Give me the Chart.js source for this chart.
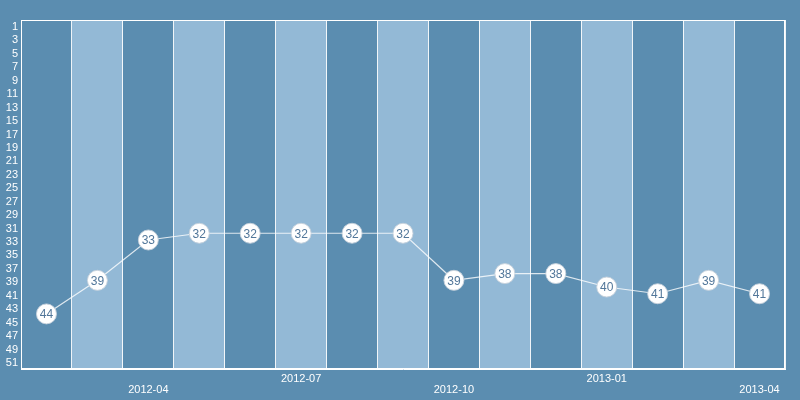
<!DOCTYPE html>
<html>
<head>
<meta charset="utf-8">
<script src="https://cdn.jsdelivr.net/npm/chart.js@4"></script>
<style>
  html, body { margin: 0; padding: 0; background: #5b8db0; }
  #wrap { width: 800px; height: 400px; }
</style>
</head>
<body>
<div id="wrap"><canvas id="rankChart"></canvas></div>
<script>
// données du graphique
const months = ['2012-02', '2012-03', '2012-04', '2012-05', '2012-06', '2012-07', '2012-08', '2012-09',
                '2012-10', '2012-11', '2012-12', '2013-01', '2013-02', '2013-03', '2013-04'];
const ranks = [44, 39, 33, 32, 32, 32, 32, 32, 39, 38, 38, 40, 41, 39, 41];
const yTicks = [1, 3, 5, 7, 9, 11, 13, 15, 17, 19, 21, 23, 25, 27, 29, 31, 33, 35, 37, 39, 41, 43, 45, 47, 49, 51];
const highLabels = ['2012-07', '2013-01'];
const lowLabels = ['2012-04', '2012-10', '2013-04'];

const darkBand = '#5b8db0';
const lightBand = '#93b9d6';

// bandes verticales alternées
const bandsPlugin = {
    id: 'bands',
    beforeDraw(chart) {
        const { ctx, chartArea, scales } = chart;
        const x = scales.x;
        const half = (x.getPixelForValue(1) - x.getPixelForValue(0)) / 2;
        ctx.save();
        ctx.fillStyle = darkBand;
        ctx.fillRect(chartArea.left, chartArea.top, chartArea.width, chartArea.height);
        ctx.fillStyle = lightBand;
        months.forEach((m, i) => {
            if (i % 2 === 1) {
                const c = x.getPixelForValue(i);
                ctx.fillRect(c - half, chartArea.top, half * 2, chartArea.height);
            }
        });
        ctx.restore();
    },
    afterDatasetsDraw(chart) {
        const { ctx, chartArea } = chart;
        ctx.save();
        ctx.strokeStyle = '#ffffff';
        ctx.lineWidth = 1;
        ctx.strokeRect(chartArea.left + 0.5, chartArea.top + 0.5, chartArea.width - 1, chartArea.height - 1);
        // étiquettes dans les points
        const meta = chart.getDatasetMeta(0);
        ctx.fillStyle = '#52779a';
        ctx.font = '12px "Liberation Sans", Arial, sans-serif';
        ctx.textAlign = 'center';
        ctx.textBaseline = 'middle';
        meta.data.forEach((pt, i) => {
            ctx.fillText(String(ranks[i]), pt.x, pt.y + 1);
        });
        ctx.restore();
    }
};

const ctx = document.getElementById('rankChart').getContext('2d');
new Chart(ctx, {
    type: 'line',
    data: {
        labels: months,
        datasets: [{
            data: ranks,
            borderColor: 'rgba(255,255,255,0.8)',
            borderWidth: 1.2,
            pointRadius: 10,
            pointHoverRadius: 10,
            pointBackgroundColor: '#ffffff',
            pointBorderColor: 'rgba(200,210,220,0.9)',
            pointBorderWidth: 1,
            tension: 0
        }]
    },
    options: {
        responsive: true,
        maintainAspectRatio: false,
        animation: false,
        layout: { padding: { top: 20, right: 15, left: 0, bottom: 0 } },
        plugins: {
            legend: { display: false },
            tooltip: { enabled: false }
        },
        scales: {
            x: {
                offset: true,
                grid: { color: 'rgba(255,255,255,0.9)', lineWidth: 1, drawTicks: false, offset: true },
                border: { color: '#ffffff' },
                afterFit(scale) { scale.height = 31; },
                ticks: {
                    color: '#ffffff',
                    autoSkip: false,
                    maxRotation: 0,
                    padding: 4,
                    font: { family: '"Liberation Sans", Arial, sans-serif', size: 11, lineHeight: 1 },
                    callback(value, index) {
                        const m = months[index];
                        if (highLabels.includes(m)) return m;
                        if (lowLabels.includes(m)) return ['', m];
                        return '';
                    }
                }
            },
            y: {
                reverse: true,
                min: 0.26,
                max: 52.2,
                grid: { display: false, drawTicks: false },
                border: { color: '#ffffff' },
                afterFit(scale) { scale.width = 21; },
                afterBuildTicks(scale) { scale.ticks = yTicks.map(v => ({ value: v })); },
                ticks: {
                    color: '#ffffff',
                    autoSkip: false,
                    padding: 3,
                    labelOffset: 2,
                    font: { family: '"Liberation Sans", Arial, sans-serif', size: 11 }
                }
            }
        }
    },
    plugins: [bandsPlugin]
});
</script>
</body>
</html>
